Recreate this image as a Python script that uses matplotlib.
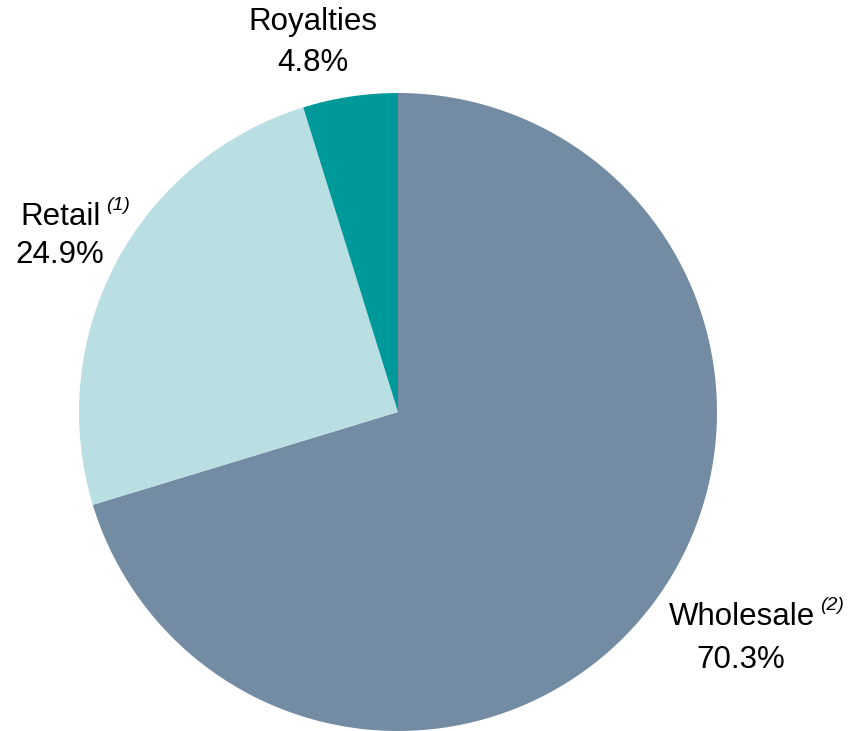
import matplotlib.pyplot as plt

plt.rcParams['font.family'] = ['Liberation Sans', 'DejaVu Sans']

segments = ['Wholesale', 'Retail', 'Royalties']
shares = [70.3, 24.9, 4.8]
notes = ['(2)', '(1)', '']
colors = ['#738BA3', '#B9DFE3', '#009999']

W, H = 850, 731
fig = plt.figure(figsize=(W / 100, H / 100), dpi=100)
ax = fig.add_axes([0, 0, 1, 1])

ax.pie(shares, colors=colors, startangle=90, counterclock=False,
       center=(398, H - 412), radius=319, wedgeprops=dict(linewidth=0),
       frame=True)
ax.set_xlim(0, W)
ax.set_ylim(0, H)
ax.axis('off')

# label positions in pixels (name right edge / center, value center)
name_pos = [(815, 617), (101, 217), (313, 22)]
name_ha = ['right', 'right', 'center']
value_pos = [(741, 660), (60, 255), (313, 63)]

fs = 22.5
for name, val, note, (nx, ny), ha, (vx, vy) in zip(segments, shares, notes,
                                                   name_pos, name_ha, value_pos):
    ax.text(nx, H - ny, name, ha=ha, va='center', fontsize=fs, color='black')
    if note:
        ax.text(nx + 5, H - ny + 12, note, ha='left', va='center',
                fontsize=14, style='italic', color='black')
    ax.text(vx, H - vy, f'{val:.1f}%', ha='center', va='center',
            fontsize=fs, color='black')

fig.savefig('out.png', dpi=100)
